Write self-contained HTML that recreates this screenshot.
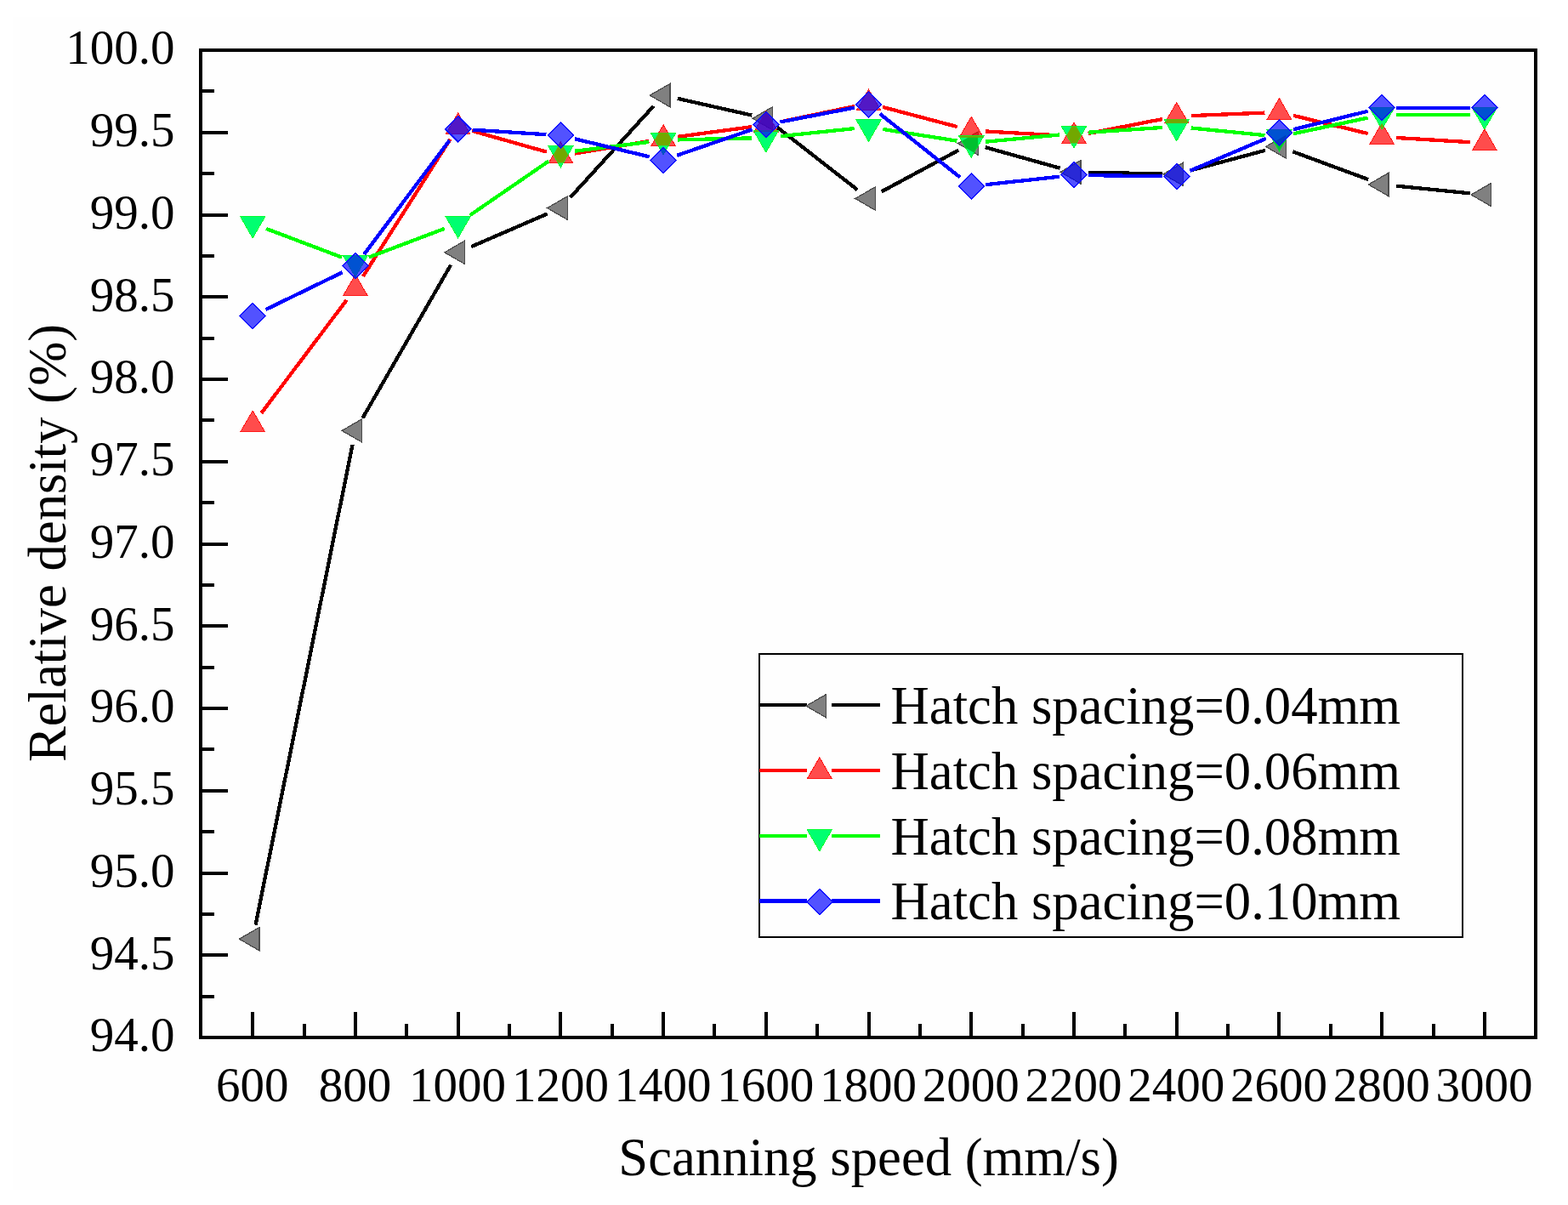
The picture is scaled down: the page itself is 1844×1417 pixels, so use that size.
<!DOCTYPE html>
<html><head><meta charset="utf-8"><title>Relative density vs scanning speed</title>
<style>
html,body{margin:0;padding:0;background:#ffffff;}
body{width:1844px;height:1417px;overflow:hidden;}
svg{display:block;}
text{font-family:"Liberation Serif","Times New Roman",serif;fill:#000;}
</style></head><body>
<svg width="1844" height="1417" viewBox="0 0 1844 1417">
<rect x="0" y="0" width="1844" height="1417" fill="#ffffff"/>
<rect x="15" y="20" width="1796" height="1379" fill="#fefefe"/>

<defs><clipPath id="cg"><path d="M297.20,279.90 L311.92,254.40 L282.48,254.40 ZM417.92,325.60 L432.65,300.10 L403.20,300.10 ZM538.65,279.80 L553.37,254.30 L523.93,254.30 ZM659.37,196.80 L674.09,171.30 L644.65,171.30 ZM780.10,181.80 L794.82,156.30 L765.37,156.30 ZM900.82,179.00 L915.54,153.50 L886.10,153.50 ZM1021.54,166.30 L1036.27,140.80 L1006.82,140.80 ZM1142.27,185.30 L1156.99,159.80 L1127.55,159.80 ZM1262.99,173.90 L1277.71,148.40 L1248.27,148.40 ZM1383.72,165.80 L1398.44,140.30 L1368.99,140.30 ZM1504.44,177.80 L1519.16,152.30 L1489.72,152.30 ZM1625.16,152.00 L1639.89,126.50 L1610.44,126.50 ZM1745.89,152.00 L1760.61,126.50 L1731.17,126.50 Z"/></clipPath></defs>
<path d="M300.57,1087.54L414.56,523.06M426.41,491.67L530.16,311.53M554.25,290.05L643.77,251.35M670.82,232.03L768.65,124.67M796.68,115.84L884.24,135.56M914.22,149.76L1008.14,223.04M1036.52,225.45L1127.29,176.65M1158.64,173.17L1246.62,197.73M1279.99,202.65L1366.72,204.45M1400.13,200.39L1488.02,176.81M1520.39,178.29L1609.22,211.11M1642.08,218.68L1728.97,227.32" fill="none" stroke="#000000" stroke-width="4.3" stroke-linecap="butt" shape-rendering="crispEdges"/>
<path d="M281.40,1104.20 L305.10,1090.52 L305.10,1117.88 ZM402.12,506.40 L425.82,492.72 L425.82,520.08 ZM522.85,296.80 L546.55,283.12 L546.55,310.48 ZM643.57,244.60 L667.27,230.92 L667.27,258.28 ZM764.30,112.10 L788.00,98.42 L788.00,125.78 ZM885.02,139.30 L908.72,125.62 L908.72,152.98 ZM1005.74,233.50 L1029.44,219.82 L1029.44,247.18 ZM1126.47,168.60 L1150.17,154.92 L1150.17,182.28 ZM1247.19,202.30 L1270.89,188.62 L1270.89,215.98 ZM1367.92,204.80 L1391.62,191.12 L1391.62,218.48 ZM1488.64,172.40 L1512.34,158.72 L1512.34,186.08 ZM1609.36,217.00 L1633.06,203.32 L1633.06,230.68 ZM1730.09,229.00 L1753.79,215.32 L1753.79,242.68 Z" fill="#808080" fill-opacity="1.0" stroke="#4d4d4d" stroke-width="1.3" stroke-linejoin="miter" shape-rendering="crispEdges"/>
<path d="M307.44,485.73L407.69,352.77M427.04,324.85L529.53,163.55M555.01,153.82L643.01,178.68M676.14,180.49L763.33,165.91M796.94,160.84L883.97,149.16M917.46,143.40L1004.91,125.00M1037.98,125.86L1125.84,149.14M1159.24,154.46L1246.02,159.34M1279.68,157.05L1367.03,140.05M1400.70,136.11L1487.45,132.59M1520.97,135.88L1608.64,157.02M1642.13,162.01L1728.92,167.19" fill="none" stroke="#ff0000" stroke-width="4.3" stroke-linecap="butt" shape-rendering="crispEdges"/>
<path d="M297.20,483.00 L311.32,507.45 L283.08,507.45 ZM417.92,322.90 L432.04,347.35 L403.81,347.35 ZM538.65,132.90 L552.76,157.35 L524.53,157.35 ZM659.37,167.00 L673.49,191.45 L645.26,191.45 ZM780.10,146.80 L794.21,171.25 L765.98,171.25 ZM900.82,130.60 L914.94,155.05 L886.70,155.05 ZM1021.54,105.20 L1035.66,129.65 L1007.43,129.65 ZM1142.27,137.20 L1156.38,161.65 L1128.15,161.65 ZM1262.99,144.00 L1277.11,168.45 L1248.88,168.45 ZM1383.72,120.50 L1397.83,144.95 L1369.60,144.95 ZM1504.44,115.60 L1518.56,140.05 L1490.32,140.05 ZM1625.16,144.70 L1639.28,169.15 L1611.05,169.15 ZM1745.89,151.90 L1760.00,176.35 L1731.77,176.35 Z" fill="#ff0000" fill-opacity="0.7" stroke="#ff1a1a" stroke-width="1.0" stroke-linejoin="miter" shape-rendering="crispEdges"/>
<path d="M313.10,268.92L402.03,302.58M433.82,302.57L522.75,268.83M552.66,253.17L645.36,189.43M676.24,177.70L763.23,166.90M797.09,164.41L883.82,162.39M917.73,160.22L1004.64,151.08M1038.34,151.94L1125.47,165.66M1159.19,166.70L1246.07,158.50M1279.95,155.76L1366.75,149.94M1400.63,150.48L1487.52,159.12M1521.06,157.25L1608.54,138.55M1642.16,135.00L1728.89,135.00" fill="none" stroke="#00ff00" stroke-width="4.3" stroke-linecap="butt" shape-rendering="crispEdges"/>
<path d="M297.20,279.90 L311.92,254.40 L282.48,254.40 ZM417.92,325.60 L432.65,300.10 L403.20,300.10 ZM538.65,279.80 L553.37,254.30 L523.93,254.30 ZM659.37,196.80 L674.09,171.30 L644.65,171.30 ZM780.10,181.80 L794.82,156.30 L765.37,156.30 ZM900.82,179.00 L915.54,153.50 L886.10,153.50 ZM1021.54,166.30 L1036.27,140.80 L1006.82,140.80 ZM1142.27,185.30 L1156.99,159.80 L1127.55,159.80 ZM1262.99,173.90 L1277.71,148.40 L1248.27,148.40 ZM1383.72,165.80 L1398.44,140.30 L1368.99,140.30 ZM1504.44,177.80 L1519.16,152.30 L1489.72,152.30 ZM1625.16,152.00 L1639.89,126.50 L1610.44,126.50 ZM1745.89,152.00 L1760.61,126.50 L1731.17,126.50 Z" fill="#00ff70" fill-opacity="1.0" stroke="#00ff30" stroke-width="1.0" stroke-linejoin="miter" shape-rendering="crispEdges"/>
<g clip-path="url(#cg)"><path d="M281.40,1104.20 L305.10,1090.52 L305.10,1117.88 ZM402.12,506.40 L425.82,492.72 L425.82,520.08 ZM522.85,296.80 L546.55,283.12 L546.55,310.48 ZM643.57,244.60 L667.27,230.92 L667.27,258.28 ZM764.30,112.10 L788.00,98.42 L788.00,125.78 ZM885.02,139.30 L908.72,125.62 L908.72,152.98 ZM1005.74,233.50 L1029.44,219.82 L1029.44,247.18 ZM1126.47,168.60 L1150.17,154.92 L1150.17,182.28 ZM1247.19,202.30 L1270.89,188.62 L1270.89,215.98 ZM1367.92,204.80 L1391.62,191.12 L1391.62,218.48 ZM1488.64,172.40 L1512.34,158.72 L1512.34,186.08 ZM1609.36,217.00 L1633.06,203.32 L1633.06,230.68 ZM1730.09,229.00 L1753.79,215.32 L1753.79,242.68 Z" fill="#00c030"/><path d="M297.20,483.00 L311.32,507.45 L283.08,507.45 ZM417.92,322.90 L432.04,347.35 L403.81,347.35 ZM538.65,132.90 L552.76,157.35 L524.53,157.35 ZM659.37,167.00 L673.49,191.45 L645.26,191.45 ZM780.10,146.80 L794.21,171.25 L765.98,171.25 ZM900.82,130.60 L914.94,155.05 L886.70,155.05 ZM1021.54,105.20 L1035.66,129.65 L1007.43,129.65 ZM1142.27,137.20 L1156.38,161.65 L1128.15,161.65 ZM1262.99,144.00 L1277.11,168.45 L1248.88,168.45 ZM1383.72,120.50 L1397.83,144.95 L1369.60,144.95 ZM1504.44,115.60 L1518.56,140.05 L1490.32,140.05 ZM1625.16,144.70 L1639.28,169.15 L1611.05,169.15 ZM1745.89,151.90 L1760.00,176.35 L1731.77,176.35 Z" fill="#72a800"/></g>
<path d="M312.49,364.07L402.64,320.23M428.11,299.19L528.46,165.21M555.61,152.68L642.41,158.22M675.90,163.27L763.57,184.33M796.17,182.76L884.75,152.24M917.51,143.48L1004.85,126.62M1034.87,133.95L1128.94,208.45M1159.17,217.17L1246.09,207.73M1279.99,206.13L1366.72,207.27M1399.37,200.86L1488.79,162.94M1520.95,152.25L1608.65,130.75M1642.16,126.70L1728.89,126.70" fill="none" stroke="#0000ff" stroke-width="4.3" stroke-linecap="butt" shape-rendering="crispEdges"/>
<path d="M297.20,356.50 L312.20,371.50 L297.20,386.50 L282.20,371.50 ZM417.92,297.80 L432.92,312.80 L417.92,327.80 L402.92,312.80 ZM538.65,136.60 L553.65,151.60 L538.65,166.60 L523.65,151.60 ZM659.37,144.30 L674.37,159.30 L659.37,174.30 L644.37,159.30 ZM780.10,173.30 L795.10,188.30 L780.10,203.30 L765.10,188.30 ZM900.82,131.70 L915.82,146.70 L900.82,161.70 L885.82,146.70 ZM1021.54,108.40 L1036.54,123.40 L1021.54,138.40 L1006.54,123.40 ZM1142.27,204.00 L1157.27,219.00 L1142.27,234.00 L1127.27,219.00 ZM1262.99,190.90 L1277.99,205.90 L1262.99,220.90 L1247.99,205.90 ZM1383.72,192.50 L1398.72,207.50 L1383.72,222.50 L1368.72,207.50 ZM1504.44,141.30 L1519.44,156.30 L1504.44,171.30 L1489.44,156.30 ZM1625.16,111.70 L1640.16,126.70 L1625.16,141.70 L1610.16,126.70 ZM1745.89,111.70 L1760.89,126.70 L1745.89,141.70 L1730.89,126.70 Z" fill="#0000ff" fill-opacity="0.68" stroke="#1010ff" stroke-width="1.5" stroke-linejoin="miter" shape-rendering="crispEdges"/>
<rect x="236.0" y="59.0" width="1570.0" height="1161.0" fill="none" stroke="#000" stroke-width="4.0" shape-rendering="crispEdges"/>
<path d="M236.0,1171.62h16.3M236.0,1123.25h31.7M236.0,1074.88h16.3M236.0,1026.50h31.7M236.0,978.12h16.3M236.0,929.75h31.7M236.0,881.38h16.3M236.0,833.00h31.7M236.0,784.62h16.3M236.0,736.25h31.7M236.0,687.88h16.3M236.0,639.50h31.7M236.0,591.12h16.3M236.0,542.75h31.7M236.0,494.38h16.3M236.0,446.00h31.7M236.0,397.62h16.3M236.0,349.25h31.7M236.0,300.88h16.3M236.0,252.50h31.7M236.0,204.12h16.3M236.0,155.75h31.7M236.0,107.38h16.3M297.20,1220.0v-30.2M357.56,1220.0v-16M417.92,1220.0v-30.2M478.29,1220.0v-16M538.65,1220.0v-30.2M599.01,1220.0v-16M659.37,1220.0v-30.2M719.73,1220.0v-16M780.10,1220.0v-30.2M840.46,1220.0v-16M900.82,1220.0v-30.2M961.18,1220.0v-16M1021.54,1220.0v-30.2M1081.91,1220.0v-16M1142.27,1220.0v-30.2M1202.63,1220.0v-16M1262.99,1220.0v-30.2M1323.35,1220.0v-16M1383.72,1220.0v-30.2M1444.08,1220.0v-16M1504.44,1220.0v-30.2M1564.80,1220.0v-16M1625.16,1220.0v-30.2M1685.53,1220.0v-16M1745.89,1220.0v-30.2" stroke="#000" stroke-width="4.0" fill="none" shape-rendering="crispEdges"/>
<text x="205.5" y="1236.4" font-size="57" text-anchor="end">94.0</text>
<text x="205.5" y="1139.7" font-size="57" text-anchor="end">94.5</text>
<text x="205.5" y="1042.9" font-size="57" text-anchor="end">95.0</text>
<text x="205.5" y="946.1" font-size="57" text-anchor="end">95.5</text>
<text x="205.5" y="849.4" font-size="57" text-anchor="end">96.0</text>
<text x="205.5" y="752.6" font-size="57" text-anchor="end">96.5</text>
<text x="205.5" y="655.9" font-size="57" text-anchor="end">97.0</text>
<text x="205.5" y="559.1" font-size="57" text-anchor="end">97.5</text>
<text x="205.5" y="462.4" font-size="57" text-anchor="end">98.0</text>
<text x="205.5" y="365.6" font-size="57" text-anchor="end">98.5</text>
<text x="205.5" y="268.9" font-size="57" text-anchor="end">99.0</text>
<text x="205.5" y="172.2" font-size="57" text-anchor="end">99.5</text>
<text x="205.5" y="75.4" font-size="57" text-anchor="end">100.0</text>
<text x="296.7" y="1295.4" font-size="57" text-anchor="middle">600</text>
<text x="417.4" y="1295.4" font-size="57" text-anchor="middle">800</text>
<text x="538.1" y="1295.4" font-size="57" text-anchor="middle">1000</text>
<text x="658.9" y="1295.4" font-size="57" text-anchor="middle">1200</text>
<text x="779.6" y="1295.4" font-size="57" text-anchor="middle">1400</text>
<text x="900.3" y="1295.4" font-size="57" text-anchor="middle">1600</text>
<text x="1021.0" y="1295.4" font-size="57" text-anchor="middle">1800</text>
<text x="1141.8" y="1295.4" font-size="57" text-anchor="middle">2000</text>
<text x="1262.5" y="1295.4" font-size="57" text-anchor="middle">2200</text>
<text x="1383.2" y="1295.4" font-size="57" text-anchor="middle">2400</text>
<text x="1503.9" y="1295.4" font-size="57" text-anchor="middle">2600</text>
<text x="1624.7" y="1295.4" font-size="57" text-anchor="middle">2800</text>
<text x="1745.4" y="1295.4" font-size="57" text-anchor="middle">3000</text>
<text x="1021.6" y="1381.6" font-size="62.7" text-anchor="middle">Scanning speed (mm/s)</text>
<text transform="translate(77,638.4) rotate(-90)" x="0" y="0" font-size="62.7" text-anchor="middle">Relative density (%)</text>
<rect x="893" y="768.5" width="827" height="333.5" fill="none" stroke="#000" stroke-width="2" shape-rendering="crispEdges"/>
<path d="M893,829.1H948.6M978.2,829.1H1035" stroke="#000000" stroke-width="4.3" fill="none" shape-rendering="crispEdges"/>
<path d="M948.00,830.20 L971.70,816.52 L971.70,843.88 Z" fill="#808080" fill-opacity="1.0" stroke="#4d4d4d" stroke-width="1.3" shape-rendering="crispEdges"/>
<text x="1047.6" y="851.1" font-size="62.7">Hatch spacing=0.04mm</text>
<path d="M893,905.9H948.6M978.2,905.9H1035" stroke="#ff0000" stroke-width="4.3" fill="none" shape-rendering="crispEdges"/>
<path d="M963.80,890.70 L977.92,915.15 L949.68,915.15 Z" fill="#ff0000" fill-opacity="0.7" stroke="#ff1a1a" stroke-width="1.0" shape-rendering="crispEdges"/>
<text x="1047.6" y="927.8" font-size="62.7">Hatch spacing=0.06mm</text>
<path d="M893,982.7H948.6M978.2,982.7H1035" stroke="#00ff00" stroke-width="4.3" fill="none" shape-rendering="crispEdges"/>
<path d="M963.80,1000.80 L978.52,975.30 L949.08,975.30 Z" fill="#00ff70" fill-opacity="1.0" stroke="#00ff30" stroke-width="1.0" shape-rendering="crispEdges"/>
<text x="1047.6" y="1004.5" font-size="62.7">Hatch spacing=0.08mm</text>
<path d="M893,1059.5H948.6M978.2,1059.5H1035" stroke="#0000ff" stroke-width="4.3" fill="none" shape-rendering="crispEdges"/>
<path d="M963.80,1045.60 L978.80,1060.60 L963.80,1075.60 L948.80,1060.60 Z" fill="#0000ff" fill-opacity="0.68" stroke="#1010ff" stroke-width="1.5" shape-rendering="crispEdges"/>
<text x="1047.6" y="1081.2" font-size="62.7">Hatch spacing=0.10mm</text>
</svg>
</body></html>
